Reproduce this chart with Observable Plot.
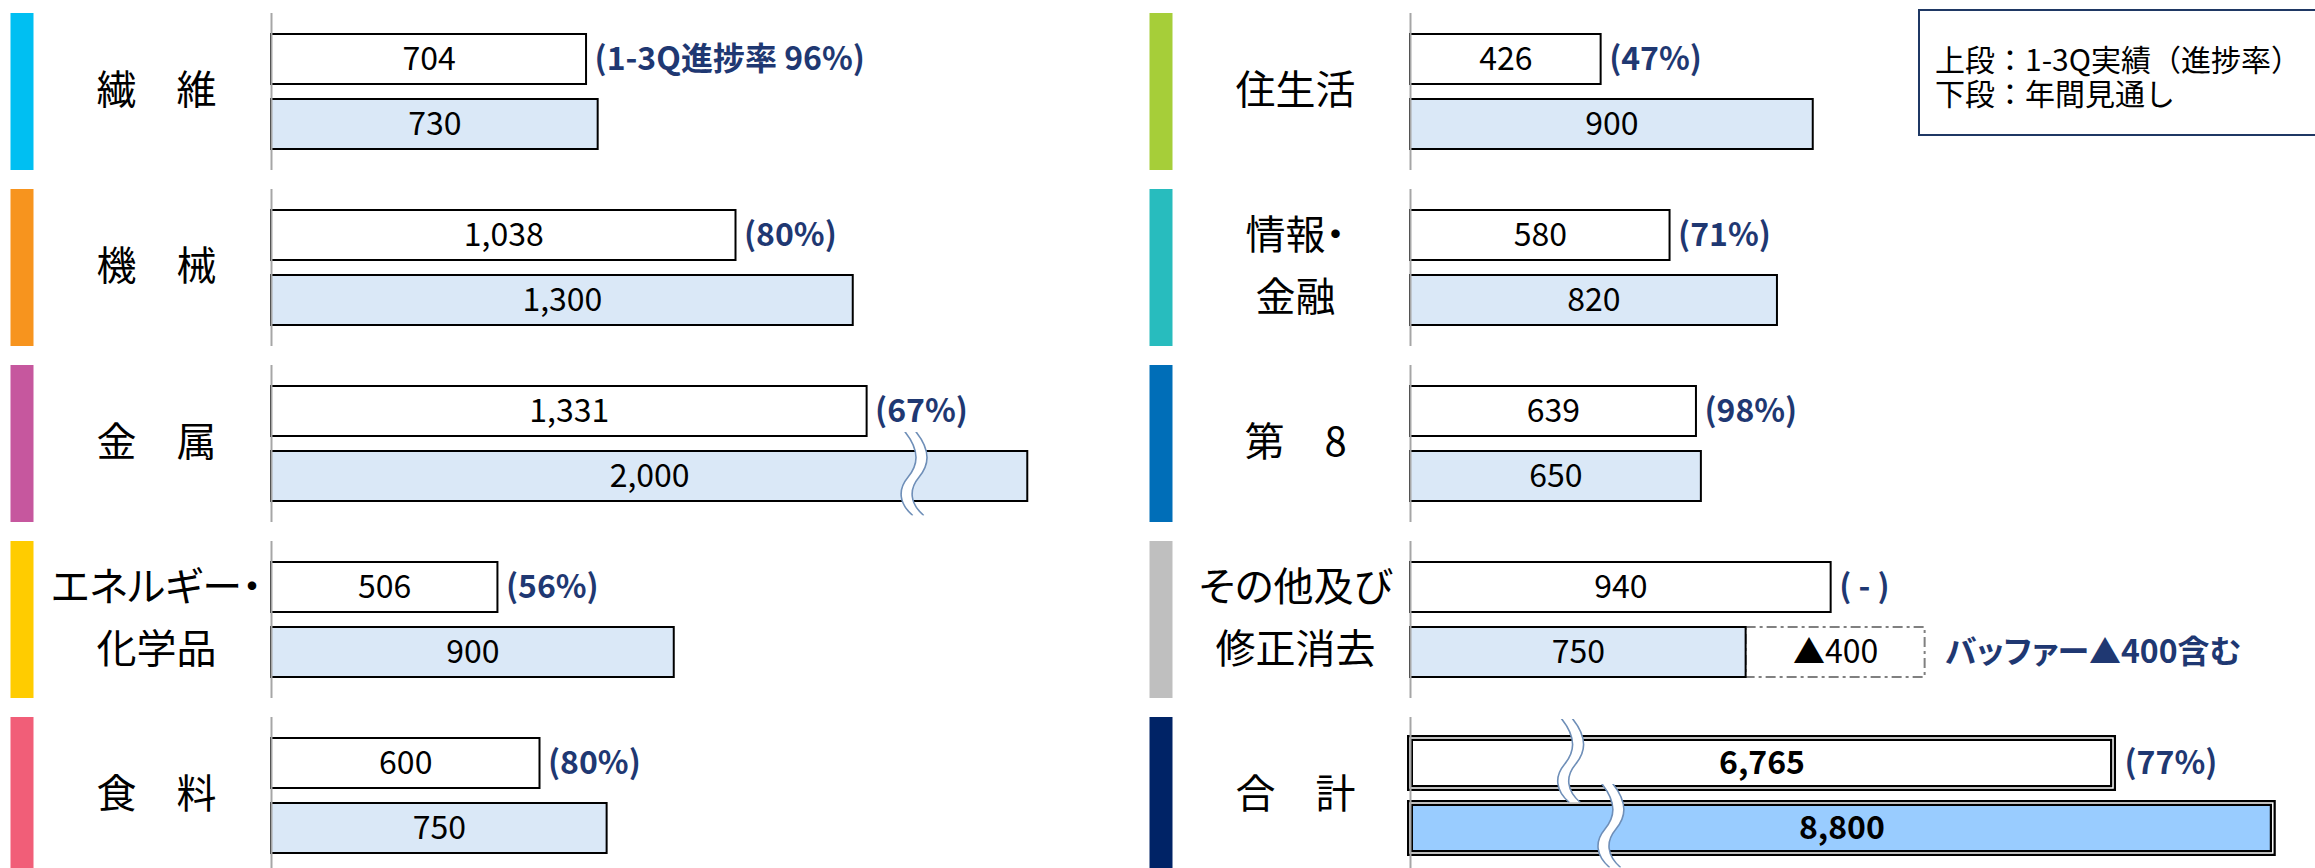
<!DOCTYPE html>
<html>
<head>
<meta charset="utf-8">
<script src="https://cdn.jsdelivr.net/npm/d3@7"></script>
<script src="https://cdn.jsdelivr.net/npm/@observablehq/plot@0.6"></script>
<style>
  html, body { margin: 0; padding: 0; background: #fff; overflow: hidden; }
  #wrap { position: relative; width: 2315px; height: 868px; overflow: hidden; background: #fff; }
  #wrap svg text { font-feature-settings: "palt"; }
  #legend {
    position: absolute; left: 1918px; top: 9px; width: 440px; height: 127px;
    box-sizing: border-box; border: 2.5px solid #1F3864; background: #fff;
    padding: 30px 0 0 15px;
    font-family: "Noto Sans CJK JP", sans-serif; font-size: 30px; line-height: 34px; color: #000;
    white-space: nowrap;
  }
</style>
</head>
<body>
<div id="wrap">
  <div id="legend"><div>上段：1-3Q実績（進捗率）</div><div>下段：年間見通し</div></div>
</div>
<script>
// ---- data ----
const segments = ["繊維", "機械", "金属", "エネルギー・化学品", "食料", "住生活", "情報・金融", "第8", "その他及び修正消去", "合計"];
const segmentLabels = ["繊　維", "機　械", "金　属", "エネルギー・\n化学品", "食　料", "住生活", "情報・\n金融", "第　8", "その他及び\n修正消去", "合　計"];
const actual13Q = [704, 1038, 1331, 506, 600, 426, 580, 639, 940, 6765];
const outlookFY = [730, 1300, 2000, 900, 750, 900, 820, 650, 750, 8800];
const progressLabels = ["(1-3Q進捗率 96%)", "(80%)", "(67%)", "(56%)", "(80%)", "(47%)", "(71%)", "(98%)", "( - )", "(77%)"];
const segmentColors = ["#00BFF2", "#F7941E", "#C6579E", "#FFCC00", "#F15E78", "#A6CE39", "#28BCBE", "#006EB8", "#BFBFBF", "#002366"];
const bufferSegment = "その他及び修正消去";
const bufferValue = 400;
const bufferLabel = "▲400";
const bufferNote = "バッファー▲400含む";
// bars drawn with an axis break: length shown and where the break sits
const brokenBars = [
  {seg: "金属", slot: "下", shownTo: 1690, breakAt: 1433},
  {seg: "合計", slot: "上", shownTo: 1571, breakAt: 355},
  {seg: "合計", slot: "下", shownTo: 1928, breakAt: 445}
];

// ---- tables ----
const panelOf = i => (i < 5 ? "L" : "R");
const rows = segments.map((s, i) => ({seg: s, label: segmentLabels[i], color: segmentColors[i], panel: panelOf(i), row: i % 5}));
const fmt = d3.format(",");
const bars = segments.flatMap((s, i) => [
  {seg: s, panel: panelOf(i), row: i % 5, slot: "上", value: actual13Q[i], note: progressLabels[i]},
  {seg: s, panel: panelOf(i), row: i % 5, slot: "下", value: outlookFY[i], note: null}
]).map(d => {
  const b = brokenBars.find(k => k.seg === d.seg && k.slot === d.slot);
  return {...d, shown: b ? b.shownTo : d.value, breakAt: b ? b.breakAt : null,
    fill: d.slot === "上" ? "#FFFFFF" : (d.seg === "合計" ? "#99CCFF" : "#DAE8F7"),
    total: d.seg === "合計"};
});
const normalBars = bars.filter(d => !d.total);
const totalBars = bars.filter(d => d.total);
const breakRows = bars.filter(d => d.breakAt != null);
const bufferRows = bars.filter(d => d.seg === bufferSegment && d.slot === "下").map(d => ({...d, buffer: bufferValue}));

const breakSvg = `<svg xmlns="http://www.w3.org/2000/svg" width="40" height="84" viewBox="0 0 40 84">
<path d="M12,0 C28,20 25,34 15,46 C5,58 6,72 20,84 L31,84 C17,72 16,58 26,46 C36,34 39,20 23,0 Z" fill="#fff"/>
<path d="M12,0 C28,20 25,34 15,46 C5,58 6,72 20,84" fill="none" stroke="#6F8FB8" stroke-width="1.6"/>
<path d="M23,0 C39,20 36,34 26,46 C16,58 17,72 31,84" fill="none" stroke="#6F8FB8" stroke-width="1.6"/>
</svg>`;
const breakSrc = "data:image/svg+xml," + encodeURIComponent(breakSvg);

const font = "'Noto Sans CJK JP', sans-serif";
const navy = "#1F3872";
const pos = {fx: "panel", fy: "row", y: "slot"};

const chart = Plot.plot({
  width: 2315,
  height: 874,
  marginLeft: 270,
  marginRight: 9,
  marginTop: 13,
  marginBottom: 0,
  style: {fontFamily: font, fontSize: "32px", background: "transparent", overflow: "visible"},
  fx: {domain: ["L", "R"], paddingInner: 0.214, paddingOuter: 0, axis: null, label: null},
  fy: {domain: [0, 1, 2, 3, 4], paddingInner: 0.108, paddingOuter: 0, axis: null, label: null},
  x: {domain: [0, 2000], axis: null},
  y: {domain: ["上", "下"], paddingInner: 0.227, paddingOuter: 0.303, axis: null},
  color: {type: "identity"},
  marks: [
    // segment colour strips
    Plot.ruleX(rows, {fx: "panel", fy: "row", x: () => 0, dx: -249.5, stroke: "color", strokeWidth: 23}),
    // buffer dashed box
    Plot.barX(bufferRows, {...pos, x1: "value", x2: d => d.value + d.buffer,
      fill: "none", stroke: "#808080", strokeWidth: 2, strokeDasharray: "10,4,3,4"}),
    // bars
    Plot.barX(normalBars, {...pos, x: "shown", fill: "fill", stroke: "#000", strokeWidth: 2}),
    Plot.barX(totalBars, {...pos, x: "shown", fill: "fill", stroke: "#000", strokeWidth: 6}),
    Plot.barX(totalBars, {...pos, x: "shown", fill: "none", stroke: "#fff", strokeWidth: 1.5}),
    // axis breaks
    Plot.image(breakRows, {...pos, x: "breakAt", src: () => breakSrc, width: 40, height: 84, dy: -3}),
    // axis line
    Plot.ruleX(rows, {fx: "panel", fy: "row", x: () => 0, stroke: "#A6A6A6", strokeWidth: 2}),
    // segment labels
    Plot.text(rows, {fx: "panel", fy: "row", x: () => 0, dx: -115, dy: -8, text: "label", fontSize: 40, lineHeight: 1.55, textAnchor: "middle", fill: "#000"}),
    // value labels
    Plot.text(normalBars, {...pos, x: d => d.shown / 2, text: d => fmt(d.value), fontSize: 32, fill: "#000"}),
    Plot.text(totalBars, {...pos, x: d => d.shown / 2, text: d => fmt(d.value), fontSize: 32, fontWeight: "bold", fill: "#000"}),
    // progress labels
    Plot.text(normalBars.filter(d => d.note), {...pos, x: "shown", dx: 8, text: "note",
      textAnchor: "start", fontSize: 32, fontWeight: "bold", fill: navy}),
    Plot.text(totalBars.filter(d => d.note), {...pos, x: "shown", dx: 11, text: "note",
      textAnchor: "start", fontSize: 32, fontWeight: "bold", fill: navy}),
    // buffer labels
    Plot.text(bufferRows, {...pos, x: d => d.value + d.buffer / 2, text: () => bufferLabel, fontSize: 32, fill: "#000"}),
    Plot.text(bufferRows, {...pos, x: d => d.value + d.buffer, dx: 20, text: () => bufferNote,
      textAnchor: "start", fontSize: 32, fontWeight: "bold", fill: navy})
  ]
});
const wrap = document.getElementById("wrap");
wrap.insertBefore(chart, wrap.firstChild);
chart.style.position = "absolute";
chart.style.left = "0px";
chart.style.top = "0px";
</script>
</body>
</html>
